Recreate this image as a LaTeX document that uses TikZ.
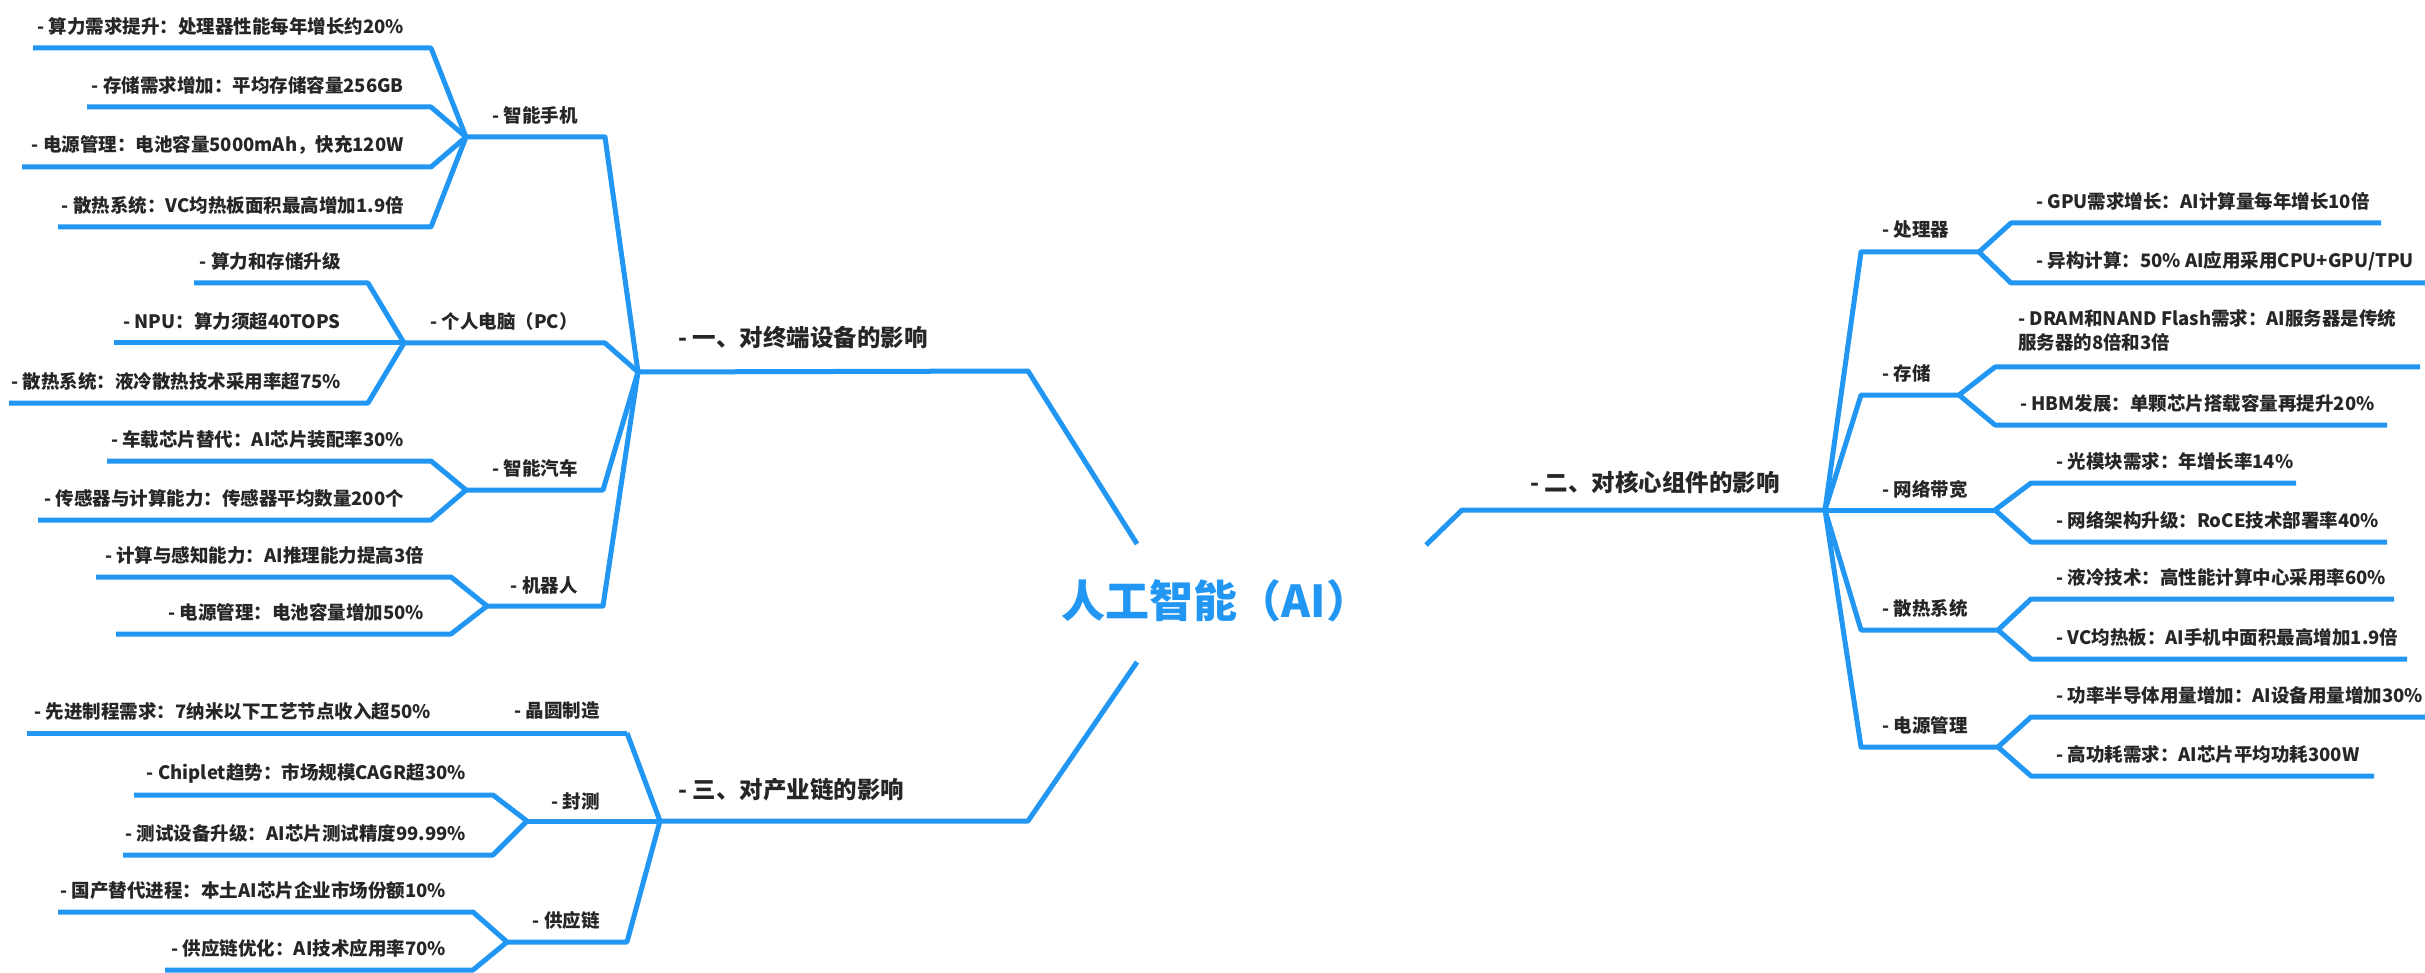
\documentclass[tikz,border=0pt]{standalone}
\usepackage{fontspec}
\setmainfont{Noto Sans CJK SC}
\definecolor{lb}{HTML}{2196F3}
\definecolor{tx}{HTML}{262626}
\newcommand\leafL[6]{%
  \coordinate (#1a) at (#4,#5);
  \coordinate (#1b) at (#3,#5);
  \draw[br] (#2) -- (#1a) -- (#1b);
  \node[lfl] (#1) at (#4-27,#5-22) {#6};}
\newcommand\leafR[6]{%
  \coordinate (#1a) at (#3,#5);
  \coordinate (#1b) at (#4,#5);
  \draw[br] (#2) -- (#1a) -- (#1b);
  \node[lfr] (#1) at (#3+25,#5-22) {#6};}
\begin{document}
\begin{tikzpicture}[x=1pt,y=-1pt,
  br/.style={draw=lb,line width=5pt,line join=round},
  lf/.style={font=\fontsize{18.5}{24}\selectfont\bfseries,text=tx,inner sep=0pt},
  lfl/.style={lf,anchor=east},
  lfr/.style={lf,anchor=west,align=left},
  bl/.style={font=\fontsize{23.5}{28}\selectfont\bfseries,text=tx,inner sep=0pt,anchor=west},
]
\fill[white] (0,0) rectangle (2425,973);
\useasboundingbox (0,0) rectangle (2425,973);

% centre
\node[font=\fontsize{44}{48}\selectfont\bfseries,text=lb,inner sep=0pt] (AI) at (1216,601) {人工智能（AI）};

% ---------- branch 1 ----------
\coordinate (C1s) at (1137,544);
\coordinate (C1t) at (1028,371);
\coordinate (J1) at (638,372);
\draw[br] (C1s) -- (C1t) -- (J1);
\node[bl] (B1) at (678,338) {- 一、对终端设备的影响};

\coordinate (Pc) at (605,137); \coordinate (Ps) at (466,137);
\draw[br] (J1) -- (Pc) -- (Ps);
\node[lfl] (Pl) at (578,115) {- 智能手机};
\leafL{p1}{Ps}{33}{431}{48}{- 算力需求提升：处理器性能每年增长约20\%}
\leafL{p2}{Ps}{87}{431}{107}{- 存储需求增加：平均存储容量256GB}
\leafL{p3}{Ps}{22}{431}{167}{- 电源管理：电池容量5000mAh，快充120W}
\leafL{p4}{Ps}{58}{431}{227}{- 散热系统：VC均热板面积最高增加1.9倍}

\coordinate (Qc) at (605,343); \coordinate (Qs) at (404,343);
\draw[br] (J1) -- (Qc) -- (Qs);
\node[lfl] (Ql) at (578,321) {- 个人电脑（PC）};
\leafL{q1}{Qs}{194}{368}{283}{- 算力和存储升级}
\leafL{q2}{Qs}{114}{368}{343}{- NPU：算力须超40TOPS}
\leafL{q3}{Qs}{9}{368}{403}{- 散热系统：液冷散热技术采用率超75\%}

\coordinate (Rc) at (603,490); \coordinate (Rs) at (466,490);
\draw[br] (J1) -- (Rc) -- (Rs);
\node[lfl] (Rl) at (578,468) {- 智能汽车};
\leafL{r1}{Rs}{107}{431}{461}{- 车载芯片替代：AI芯片装配率30\%}
\leafL{r2}{Rs}{38}{431}{520}{- 传感器与计算能力：传感器平均数量200个}

\coordinate (Sc) at (603,606); \coordinate (Ss) at (487,606);
\draw[br] (J1) -- (Sc) -- (Ss);
\node[lfl] (Sl) at (578,585) {- 机器人};
\leafL{s1}{Ss}{96}{451}{577}{- 计算与感知能力：AI推理能力提高3倍}
\leafL{s2}{Ss}{116}{451}{634}{- 电源管理：电池容量增加50\%}

% ---------- branch 3 ----------
\coordinate (C3s) at (1137,662);
\coordinate (C3t) at (1028,821);
\coordinate (J3) at (660,821);
\draw[br] (C3s) -- (C3t) -- (J3);
\node[bl] (B3) at (678,790) {- 三、对产业链的影响};

\coordinate (Wc) at (627,733);
\draw[br] (J3) -- (Wc);
\node[lfl] (Wl) at (600,711) {- 晶圆制造};
\leafL{w1}{Wc}{27}{458}{733}{- 先进制程需求：7纳米以下工艺节点收入超50\%}

\coordinate (Fs) at (527,821);
\draw[br] (J3) -- (Fs);
\node[lfl] (Fl) at (600,801) {- 封测};
\leafL{f1}{Fs}{134}{493}{795}{- Chiplet趋势：市场规模CAGR超30\%}
\leafL{f2}{Fs}{123}{493}{855}{- 测试设备升级：AI芯片测试精度99.99\%}

\coordinate (Gc) at (627,942); \coordinate (Gs) at (507,942);
\draw[br] (J3) -- (Gc) -- (Gs);
\node[lfl] (Gl) at (600,920) {- 供应链};
\leafL{g1}{Gs}{58}{473}{912}{- 国产替代进程：本土AI芯片企业市场份额10\%}
\leafL{g2}{Gs}{165}{473}{970}{- 供应链优化：AI技术应用率70\%}

% ---------- branch 2 ----------
\coordinate (C2s) at (1426,545);
\coordinate (C2t) at (1462,510);
\coordinate (J2) at (1825,510);
\draw[br] (C2s) -- (C2t) -- (J2);
\node[bl] (B2) at (1530,482) {- 二、对核心组件的影响};

\coordinate (Ac) at (1861,252); \coordinate (As) at (1979,252);
\draw[br] (J2) -- (Ac) -- (As);
\node[lfr] (Al) at (1882,230) {- 处理器};
\leafR{a1}{As}{2011}{2381}{223}{- GPU需求增长：AI计算量每年增长10倍}
\leafR{a2}{As}{2011}{2425}{283}{- 异构计算：50\% AI应用采用CPU+GPU/TPU}

\coordinate (Bc) at (1861,395); \coordinate (Bs) at (1959,395);
\draw[br] (J2) -- (Bc) -- (Bs);
\node[lfr] (Bl) at (1882,373) {- 存储};
\coordinate (b1a) at (1995,367); \coordinate (b1b) at (2420,367);
\draw[br] (Bs) -- (b1a) -- (b1b);
\node[lfr] (b1) at (2018,330) {- DRAM和NAND Flash需求：AI服务器是传统\\服务器的8倍和3倍};
\leafR{b2}{Bs}{1995}{2387}{425}{- HBM发展：单颗芯片搭载容量再提升20\%}

\coordinate (Ns) at (1995,510);
\draw[br] (J2) -- (Ns);
\node[lfr] (Nl) at (1882,489) {- 网络带宽};
\leafR{n1}{Ns}{2031}{2296}{483}{- 光模块需求：年增长率14\%}
\leafR{n2}{Ns}{2031}{2387}{542}{- 网络架构升级：RoCE技术部署率40\%}

\coordinate (Hc) at (1861,630); \coordinate (Hs) at (1998,630);
\draw[br] (J2) -- (Hc) -- (Hs);
\node[lfr] (Hl) at (1882,608) {- 散热系统};
\leafR{h1}{Hs}{2031}{2394}{599}{- 液冷技术：高性能计算中心采用率60\%}
\leafR{h2}{Hs}{2031}{2407}{659}{- VC均热板：AI手机中面积最高增加1.9倍}

\coordinate (Ec) at (1861,747); \coordinate (Es) at (1998,747);
\draw[br] (J2) -- (Ec) -- (Es);
\node[lfr] (El) at (1882,725) {- 电源管理};
\leafR{e1}{Es}{2031}{2425}{717}{- 功率半导体用量增加：AI设备用量增加30\%}
\leafR{e2}{Es}{2031}{2374}{776}{- 高功耗需求：AI芯片平均功耗300W}
\end{tikzpicture}
\end{document}
